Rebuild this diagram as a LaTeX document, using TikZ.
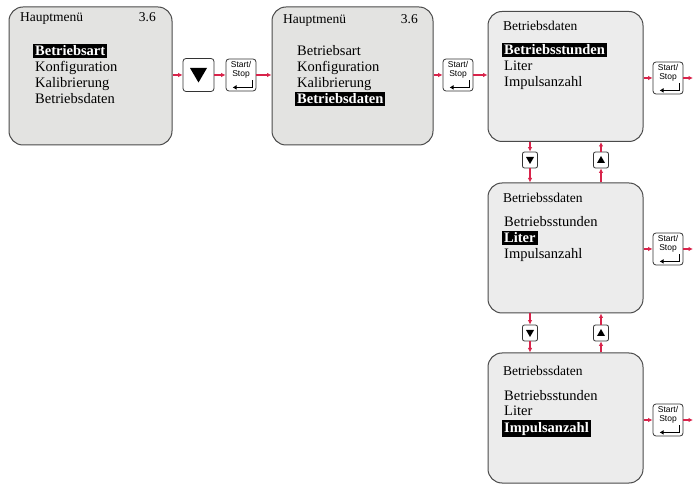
\documentclass[tikz,border=0pt]{standalone}
\usepackage{fontspec}
\setmainfont{Liberation Serif}
\setsansfont{Liberation Sans}
\usetikzlibrary{arrows.meta,positioning,calc}
\definecolor{mnink}{HTML}{4A4A4A}
\definecolor{mnred}{HTML}{D8234A}
\definecolor{mngrey}{HTML}{E3E3E1}
\definecolor{mnlight}{HTML}{ECECEC}

\begin{document}
\begin{tikzpicture}[
        x=1pt, y=-1pt,
        screen/.style={draw=mnink, line width=1pt, rounded corners=14pt,
                       fill=mngrey, inner sep=0pt},
        subscreen/.style={screen, fill=mnlight, minimum width=155pt,
                          minimum height=130pt},
        txt/.style={font=\fontsize{14.5}{16}\selectfont, inner sep=0pt,
                    anchor=base west},
        hd/.style={txt, font=\fontsize{13.5}{15}\selectfont},
        hl/.style={txt, font=\fontsize{14.5}{16}\selectfont\bfseries,
                   fill=black, text=white, inner xsep=2pt, inner ysep=1.5pt},
        btn/.style={draw=black!80, fill=white, rounded corners=3pt,
                    line width=0.8pt, minimum width=30pt, minimum height=32pt,
                    inner sep=0pt},
        smallbtn/.style={btn, minimum width=15pt, minimum height=16pt,
                         rounded corners=2pt},
        sstext/.style={font=\sffamily\fontsize{8.5}{9.5}\selectfont,
                       align=center, inner sep=0pt},
        enter/.style={-{Latex[length=4pt,width=5pt]}, line width=1.4pt},
        arr/.style={-{Latex[length=4.5pt,width=4.5pt]}, mnred, line width=1.3pt}
    ]
    \useasboundingbox (0,0) rectangle (694,486);
    \coordinate (edge) at (693,0);

    % main menu, first entry
    \node[screen, minimum width=163pt, minimum height=138pt] (m1) at (90.5,76) {};
    \node[hd] (m1h) at (20,22) {Hauptmenü};
    \node[hd, anchor=base east] (m1v) at (156,22) {3.6};
    \node[hl] (m1a) at (33,56) {Betriebsart};
    \node[txt] (m1b) at (35,72) {Konfiguration};
    \node[txt] (m1c) at (35,88) {Kalibrierung};
    \node[txt] (m1d) at (35,104) {Betriebsdaten};

    % main menu, last entry
    \node[screen, minimum width=161pt, minimum height=138pt] (m2) at (352.5,76) {};
    \node[hd] (m2h) at (283,24) {Hauptmenü};
    \node[hd, anchor=base east] (m2v) at (418,24) {3.6};
    \node[txt] (m2a) at (297,56) {Betriebsart};
    \node[txt] (m2b) at (297,72) {Konfiguration};
    \node[txt] (m2c) at (297,88) {Kalibrierung};
    \node[hl] (m2d) at (295,104) {Betriebsdaten};

    % operating data screens
    \node[subscreen] (m3) at (565.5,76.5) {};
    \node[hd] (m3h) at (503,31) {Betriebsdaten};
    \node[hl] (m3a) at (502,55) {Betriebsstunden};
    \node[txt] (m3b) at (504,71) {Liter};
    \node[txt] (m3c) at (504,87) {Impulsanzahl};

    \node[subscreen] (m4) at (565.5,248) {};
    \node[hd] (m4h) at (503,203) {Betriebssdaten};
    \node[txt] (m4a) at (504,227) {Betriebsstunden};
    \node[hl] (m4b) at (502,243) {Liter};
    \node[txt] (m4c) at (504,259) {Impulsanzahl};

    \node[subscreen] (m5) at (565.5,418) {};
    \node[hd] (m5h) at (503,376) {Betriebssdaten};
    \node[txt] (m5a) at (504,401) {Betriebsstunden};
    \node[txt] (m5b) at (504,416) {Liter};
    \node[hl] (m5c) at (502,432) {Impulsanzahl};

    % keys
    \node[btn, minimum width=31pt, minimum height=33pt] (dn0) at (198.5,75) {};
    \node[btn] (ss1) at (241,75) {};
    \node[btn] (ss2) at (458,75) {};
    \node[btn] (ss3) at (668,78) {};
    \node[btn] (ss4) at (668,249) {};
    \node[btn] (ss5) at (668,420) {};
    \node[smallbtn] (dn1) at (530,160) {};
    \node[smallbtn] (up1) at (601,160) {};
    \node[smallbtn] (dn2) at (530,333) {};
    \node[smallbtn] (up2) at (601,333) {};

    \fill ($(dn0)+(-8.5,-7)$) -- ($(dn0)+(8.5,-7)$) -- ($(dn0)+(0,7.5)$) -- cycle;
    \foreach \b in {dn1,dn2}
        \fill ($(\b)+(-4,-3)$) -- ($(\b)+(4,-3)$) -- ($(\b)+(0,4)$) -- cycle;
    \foreach \b in {up1,up2}
        \fill ($(\b)+(-4,3)$) -- ($(\b)+(4,3)$) -- ($(\b)+(0,-4)$) -- cycle;
    \foreach \b in {ss1,ss2,ss3,ss4,ss5} {
        \node[sstext] (\b t) at ($(\b)+(0,-5)$) {Start/\\Stop};
        \draw[enter] ($(\b.south east)+(-4,-11)$) -- ($(\b.south east)+(-4,-4)$)
            -- ($(\b.south west)+(7,-4)$);
    }

    % transitions
    \draw[arr] (m1.east |- dn0) -- (dn0.west);
    \draw[arr] (dn0.east) -- (ss1.west);
    \draw[arr] (ss1.east) -- (m2.west |- ss1);
    \draw[arr] (m2.east |- ss2) -- (ss2.west);
    \draw[arr] (ss2.east) -- (m3.west |- ss2);
    \draw[arr] (m3.east |- ss3) -- (ss3.west);
    \draw[arr] (ss3.east) -- (ss3.east -| edge);
    \draw[arr] (m4.east |- ss4) -- (ss4.west);
    \draw[arr] (ss4.east) -- (ss4.east -| edge);
    \draw[arr] (m5.east |- ss5) -- (ss5.west);
    \draw[arr] (ss5.east) -- (ss5.east -| edge);

    \draw[arr] (m3.south -| dn1) -- (dn1.north);
    \draw[arr] (dn1.south) -- (m4.north -| dn1);
    \draw[arr] (m4.north -| up1) -- (up1.south);
    \draw[arr] (up1.north) -- (m3.south -| up1);
    \draw[arr] (m4.south -| dn2) -- (dn2.north);
    \draw[arr] (dn2.south) -- (m5.north -| dn2);
    \draw[arr] (m5.north -| up2) -- (up2.south);
    \draw[arr] (up2.north) -- (m4.south -| up2);
\end{tikzpicture}
\end{document}
